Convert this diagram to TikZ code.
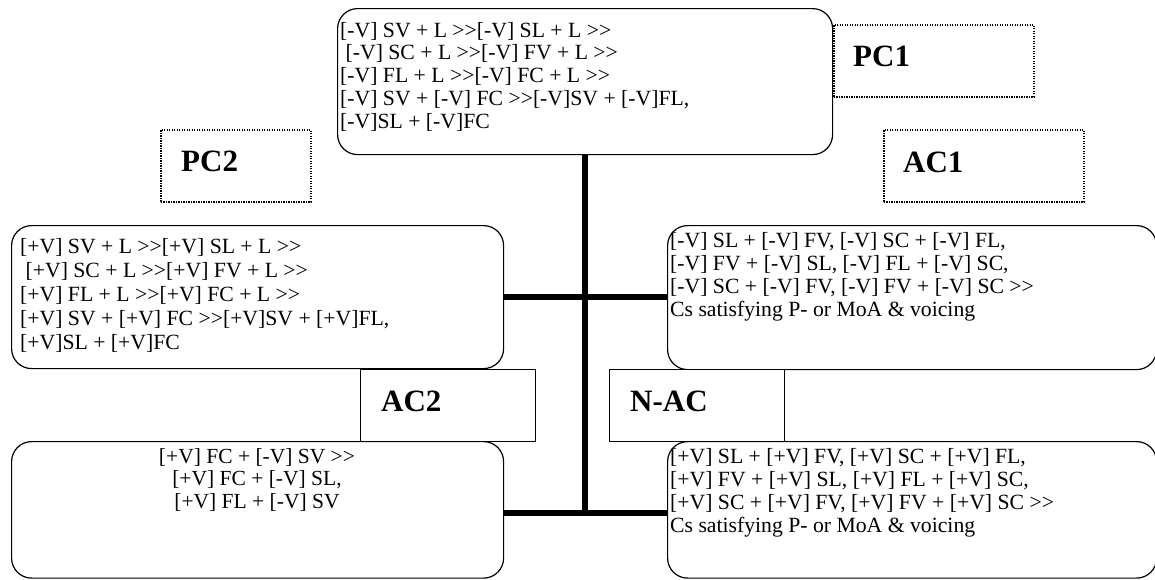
\documentclass[tikz,border=0pt]{standalone}
\usepackage{fontspec}
\setmainfont{Liberation Serif}
\newcommand\GG{>\kern0pt>}
\begin{document}
\begin{tikzpicture}[x=1pt,y=-1pt,
 rbox/.style={draw, line width=1.2pt, rounded corners=20pt, inner sep=0pt, anchor=north west},
 dbox/.style={draw, line width=1.6pt, dash pattern=on 1.2pt off 1.3pt, inner sep=0pt, anchor=north west},
 sbox/.style={draw, line width=1.2pt, inner sep=0pt, anchor=north west},
 conn/.style={line width=5.5pt},
 txt/.style={anchor=base west, inner sep=0pt, font=\fontsize{21.7}{23.3}\selectfont},
 ctxt/.style={anchor=base, inner sep=0pt, font=\fontsize{21.5}{22.5}\selectfont},
 lbl/.style={anchor=base west, inner sep=0pt, font=\bfseries\fontsize{31}{36}\selectfont}]
\useasboundingbox (0,0) rectangle (1155,579);
\fill[white] (0,0) rectangle (1155,579);

% boxes
\node[rbox, minimum width=495pt, minimum height=146pt] (top) at (337,8) {};
\node[rbox, minimum width=492pt, minimum height=143pt] (left) at (11,225) {};
\node[rbox, minimum width=489pt, minimum height=144pt] (right) at (667,225) {};
\node[rbox, minimum width=492pt, minimum height=136.5pt] (ll) at (11,441) {};
\node[rbox, minimum width=489pt, minimum height=136.5pt] (lr) at (667,441) {};

\node[dbox, minimum width=200pt, minimum height=72pt] (pc1) at (833,24) {};
\node[dbox, minimum width=200pt, minimum height=72pt] (ac1) at (883,129) {};
\node[dbox, minimum width=150pt, minimum height=72pt] (pc2) at (160,129) {};
\node[sbox, minimum width=175pt, minimum height=72pt, fill=white] (ac2) at (360,369) {};
\node[sbox, minimum width=175pt, minimum height=72pt, fill=white] (nac) at (609,369) {};

% labels
\node[lbl] (pc1t) at (853,66) {PC1};
\node[lbl] (ac1t) at (903,172) {AC1};
\node[lbl] (pc2t) at (181,171) {PC2};
\node[lbl] (ac2t) at (381,411) {AC2};
\node[lbl] (nact) at (630,411) {N-AC};

% texts
\node[txt, font=\fontsize{21.7}{22.8}\selectfont] (topt) at (340,37) {\begin{tabular}[t]{@{}l@{}}
{}[-V] SV + L \GG[-V] SL + L \GG\\
\ [-V] SC + L \GG[-V] FV + L \GG\\
{}[-V] FL + L \GG[-V] FC + L \GG\\
{}[-V] SV + [-V] FC \GG[-V]SV + [-V]FL,\\
{}[-V]SL + [-V]FC
\end{tabular}};

\node[txt, font=\fontsize{21.7}{24.2}\selectfont] (leftt) at (20,253) {\begin{tabular}[t]{@{}l@{}}
{}[+V] SV + L \GG[+V] SL + L \GG\\
\ [+V] SC + L \GG[+V] FV + L \GG\\
{}[+V] FL + L \GG[+V] FC + L \GG\\
{}[+V] SV + [+V] FC \GG[+V]SV + [+V]FL,\\
{}[+V]SL + [+V]FC
\end{tabular}};

\node[txt] (rightt) at (670,247) {\begin{tabular}[t]{@{}l@{}}
{}[-V] SL + [-V] FV, [-V] SC + [-V] FL,\\
{}[-V] FV + [-V] SL, [-V] FL + [-V] SC,\\
{}[-V] SC + [-V] FV, [-V] FV + [-V] SC \GG\\
Cs satisfying P- or MoA \& voicing
\end{tabular}};

\node[ctxt] (llt) at (257,463) {\begin{tabular}[t]{@{}c@{}}
{}[+V] FC + [-V] SV \GG\\
{}[+V] FC + [-V] SL,\\
{}[+V] FL + [-V] SV
\end{tabular}};

\node[txt] (lrt) at (670,463) {\begin{tabular}[t]{@{}l@{}}
{}[+V] SL + [+V] FV, [+V] SC + [+V] FL,\\
{}[+V] FV + [+V] SL, [+V] FL + [+V] SC,\\
{}[+V] SC + [+V] FV, [+V] FV + [+V] SC \GG\\
Cs satisfying P- or MoA \& voicing
\end{tabular}};

% connectors
\coordinate (j2) at (584.5,513);
\draw[conn] (top.south) -- (top.south |- j2) ++(0,2.5);
\draw[conn] (left.east) -- (left.east -| right.west);
\draw[conn] (ll.east |- j2) -- (lr.west |- j2);
\end{tikzpicture}
\end{document}
